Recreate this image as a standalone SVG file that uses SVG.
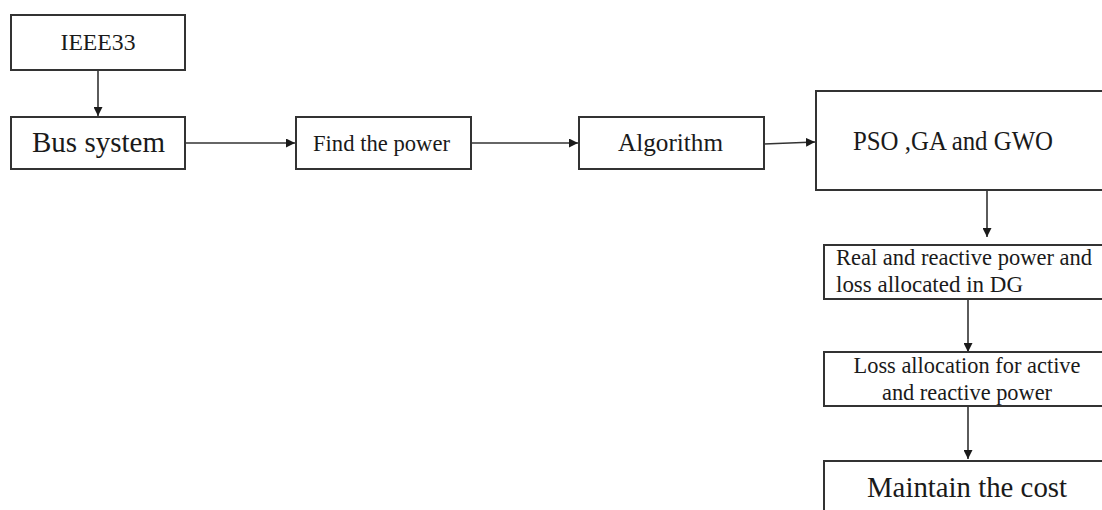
<svg xmlns="http://www.w3.org/2000/svg" width="1102" height="510" viewBox="0 0 1102 510">
  <style>
    .box { fill: #ffffff; stroke: #333333; stroke-width: 2; }
    .lbl { fill: #1a1a1a; font-family: "Liberation Serif", "Times New Roman", Tinos, "Nimbus Roman", "DejaVu Serif", "Noto Serif", FreeSerif, serif; }
    .mid { text-anchor: middle; }
    .conn { fill: none; stroke: #333333; stroke-width: 1.6; marker-end: url(#head); }
  </style>
  <defs>
    <marker id="head" viewBox="0 0 10 10" refX="10" refY="5" markerWidth="9" markerHeight="9" markerUnits="userSpaceOnUse" orient="auto">
      <path d="M0,0 L10,5 L0,10 z" fill="#1a1a1a"/>
    </marker>
  </defs>
  <rect width="1102" height="510" fill="#ffffff"/>

  <g id="connectors">
    <line class="conn" x1="98" y1="70" x2="98" y2="116"/>
    <line class="conn" x1="185" y1="143" x2="295" y2="143"/>
    <line class="conn" x1="471" y1="143" x2="578" y2="143"/>
    <line class="conn" x1="764" y1="144" x2="815" y2="142"/>
    <line class="conn" x1="987" y1="190" x2="987" y2="237"/>
    <line class="conn" x1="968" y1="299" x2="968" y2="352"/>
    <line class="conn" x1="968" y1="406" x2="968" y2="459"/>
  </g>

  <g id="ieee33">
    <rect class="box" x="11" y="15" width="174" height="55"/>
    <text class="lbl mid" x="98" y="50" font-size="24" textLength="75" lengthAdjust="spacingAndGlyphs">IEEE33</text>
  </g>

  <g id="bus-system">
    <rect class="box" x="11" y="117" width="174" height="52"/>
    <text class="lbl mid" x="98.5" y="152" font-size="28.5" textLength="133" lengthAdjust="spacingAndGlyphs">Bus system</text>
  </g>

  <g id="find-power">
    <rect class="box" x="296" y="117" width="175" height="52"/>
    <text class="lbl mid" x="381.5" y="151" font-size="23" textLength="137" lengthAdjust="spacingAndGlyphs">Find the power</text>
  </g>

  <g id="algorithm">
    <rect class="box" x="579" y="117" width="185" height="52"/>
    <text class="lbl mid" x="670.5" y="151" font-size="26" textLength="105" lengthAdjust="spacingAndGlyphs">Algorithm</text>
  </g>

  <g id="pso-ga-gwo">
    <rect class="box" x="816" y="91" width="300" height="99"/>
    <text class="lbl mid" x="953" y="150" font-size="28" textLength="200" lengthAdjust="spacingAndGlyphs">PSO ,GA and GWO</text>
  </g>

  <g id="real-reactive">
    <rect class="box" x="824" y="245" width="290" height="54"/>
    <text class="lbl" x="836" y="265" font-size="22.5" textLength="256" lengthAdjust="spacingAndGlyphs">Real and reactive power and</text>
    <text class="lbl" x="836" y="292" font-size="22.5" textLength="187" lengthAdjust="spacingAndGlyphs">loss allocated in DG</text>
  </g>

  <g id="loss-allocation">
    <rect class="box" x="824" y="352" width="290" height="54"/>
    <text class="lbl mid" x="967" y="373" font-size="22.5" textLength="227" lengthAdjust="spacingAndGlyphs">Loss allocation for active</text>
    <text class="lbl mid" x="967" y="400" font-size="22.5" textLength="170" lengthAdjust="spacingAndGlyphs">and reactive power</text>
  </g>

  <g id="maintain-cost">
    <rect class="box" x="824" y="461" width="290" height="60"/>
    <text class="lbl mid" x="967" y="497" font-size="28.5" textLength="200" lengthAdjust="spacingAndGlyphs">Maintain the cost</text>
  </g>
</svg>
